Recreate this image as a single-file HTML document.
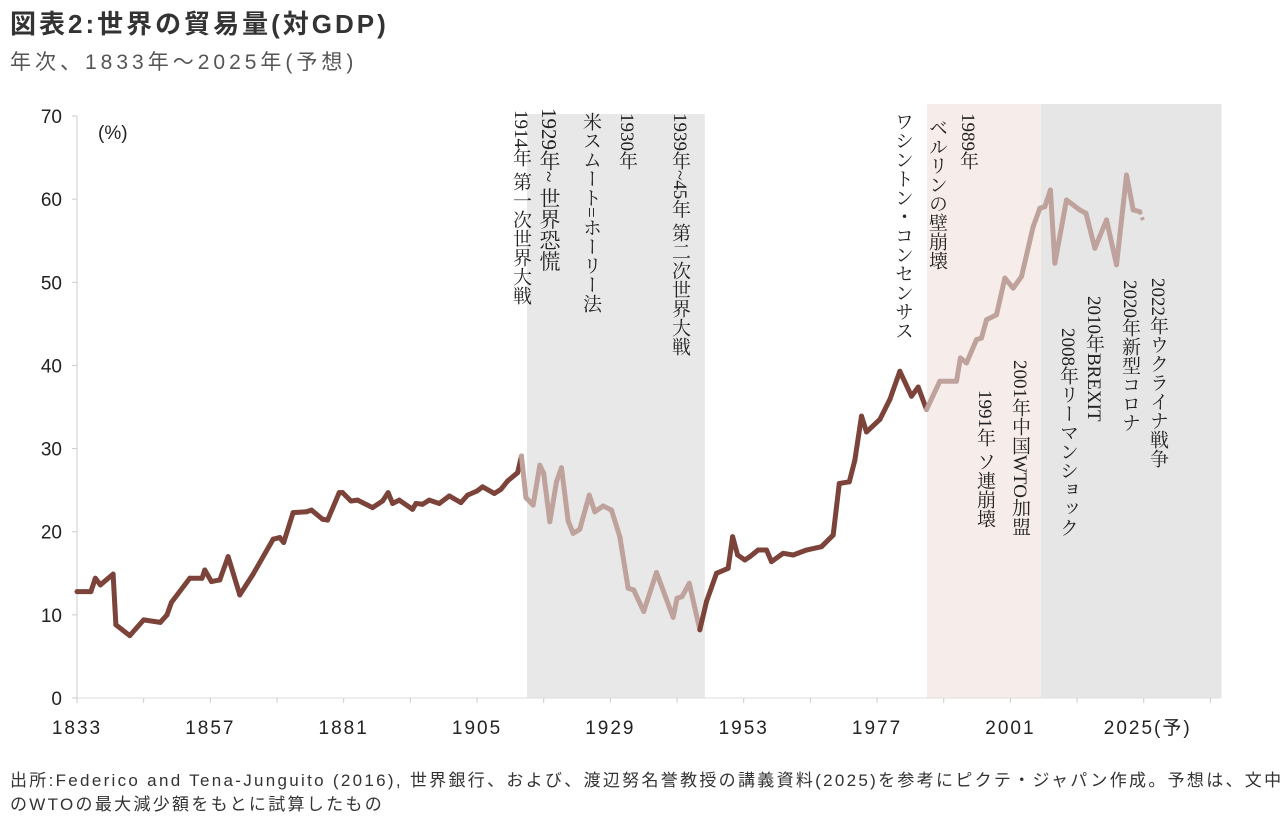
<!DOCTYPE html>
<html><head><meta charset="utf-8">
<style>
body{margin:0;width:1288px;height:822px;background:#fff;overflow:hidden;font-family:"Liberation Sans","Noto Sans CJK JP",sans-serif;position:relative}
.t{position:absolute;white-space:nowrap}
.v{position:absolute;writing-mode:vertical-rl;font-family:"Liberation Serif","Noto Serif CJK SC",serif;font-size:19px;color:#222;line-height:1;white-space:nowrap}
</style></head><body>
<div class="t" style="left:10px;top:4px;font-size:26px;font-weight:bold;color:#333;letter-spacing:3px">図表2:世界の貿易量(対GDP)</div>
<div class="t" style="left:10px;top:46px;font-size:21px;color:#555;letter-spacing:4px">年次、1833年～2025年(予想)</div>
<svg id="c" width="1288" height="822" style="position:absolute;left:0;top:0"></svg>
<div class="v" style="left:511px;top:110px">1914年 第一次世界大戦</div>
<div class="v" style="left:538px;top:108px;font-size:21px">1929年~ 世界恐慌</div>
<div class="v" style="left:581px;top:112px">米スムート=ホーリー法</div>
<div class="v" style="left:617px;top:113px">1930年</div>
<div class="v" style="left:670px;top:113px">1939年~45年 第二次世界大戦</div>
<div class="v" style="left:893px;top:112px">ワシントン・コンセンサス</div>
<div class="v" style="left:927px;top:118px">ベルリンの壁崩壊</div>
<div class="v" style="left:958px;top:113px">1989年</div>
<div class="v" style="left:975px;top:390px">1991年 ソ連崩壊</div>
<div class="v" style="left:1010px;top:360px">2001年中国WTO加盟</div>
<div class="v" style="left:1058px;top:328px">2008年リーマンショック</div>
<div class="v" style="left:1084px;top:296px">2010年BREXIT</div>
<div class="v" style="left:1120px;top:280px">2020年新型コロナ</div>
<div class="v" style="left:1148px;top:278px">2022年ウクライナ戦争</div>
<div class="t" style="left:10px;top:769px;font-size:17px;color:#333;line-height:24px;letter-spacing:2.3px">出所:Federico and Tena-Junguito (2016), 世界銀行、および、渡辺努名誉教授の講義資料(2025)を参考にピクテ・ジャパン作成。予想は、文中<br>のWTOの最大減少額をもとに試算したもの</div>
<script>
const years=[1833,1835.5,1836.3,1837.2,1839.5,1840,1842.5,1845,1848,1849.2,1850,1853.3,1855.5,1856,1857.2,1858.7,1860.2,1862.3,1864.7,1868.3,1869.5,1870.2,1871.9,1874.3,1875.2,1877.2,1878.1,1880.2,1880.8,1882.3,1883.5,1886.2,1888,1889,1889.8,1891,1893.4,1894,1895.2,1896.4,1898.2,1900,1902.1,1903.3,1905,1906,1908.1,1909.3,1910.5,1912.3,1913,
1913.8,1915.1,1916.3,1917,1918.1,1919.3,1920.2,1921.4,1922.3,1923.5,1925.2,1926.2,1927.7,1929.2,1930.7,1932.2,1933.2,1935,1937.3,1940.3,1941,1941.9,1943.2,1945.1,
1946.3,1948.1,1950.2,1951,1951.9,1953.2,1954.1,1955.6,1957.1,1958,1960.1,1961.9,1964.3,1967,1969.1,1970.2,1972,1973,1974.2,1975.1,1977.5,1979.3,1981.1,1983.2,1984.4,1985.9,
1988.3,1991.3,1992,1993.1,1994.9,1995.8,1996.7,1998.5,2000,2001.5,2003,2005.1,2006.3,2007.2,2008.2,2009,2011.1,2013.5,2014.6,2016.2,2018.3,2020.1,2021.9,2023.1,2024.3];
const values=[12.8,12.8,14.4,13.6,14.9,8.8,7.5,9.4,9.1,10,11.5,14.4,14.4,15.4,14,14.2,17,12.4,14.9,19.1,19.3,18.7,22.3,22.4,22.6,21.5,21.4,24.7,24.7,23.7,23.8,22.9,23.7,24.7,23.4,23.8,22.7,23.4,23.3,23.8,23.4,24.3,23.5,24.4,24.9,25.4,24.6,25.1,26.1,27.1,29.1,
24.1,23.2,28,27,21.2,26,27.7,21.3,19.8,20.3,24.4,22.4,23.1,22.6,19.4,13.2,13,10.4,15.1,9.7,12,12.2,13.8,8.2,
11.6,15,15.6,19.4,17.2,16.6,17,17.8,17.8,16.4,17.4,17.2,17.8,18.2,19.6,25.8,26,28.6,33.9,32,33.5,35.9,39.3,36.3,37.4,34.7,
38.1,38.1,40.9,40.3,43.1,43.3,45.5,46.1,50.5,49.3,50.7,56.7,58.9,59.1,61.1,52.3,59.9,58.7,58.3,54.1,57.5,52.1,62.9,58.7,58.5];
const forecastYears=[2024.3,2025];
const forecastValues=[58.5,57.2];
const lightRanges=[[1913,1945.1],[1985.9,2030]];
const bands=[[1914,1946,'#e8e8e8',114],[1986,2006.5,'#f6ece9',104],[2006.5,2039,'#e6e6e6',104]];
const yTicks=[0,10,20,30,40,50,60,70];
const xLabels=[1833,1857,1881,1905,1929,1953,1977,2001];
const NS='http://www.w3.org/2000/svg';
const svg=document.getElementById('c');
const X0=77,PX=5.556,Y0=698,PY=8.314;
const xs=y=>X0+(y-1833)*PX, ys=v=>Y0-v*PY;
function el(t,a){const e=document.createElementNS(NS,t);for(const k in a)e.setAttribute(k,a[k]);svg.appendChild(e);return e;}
bands.forEach(b=>{const r=el('rect',{x:xs(b[0]),y:b[3],width:xs(b[1])-xs(b[0]),height:Y0-b[3],fill:b[2]});

});
const ax=el('line',{x1:X0,y1:116,x2:X0,y2:Y0,stroke:'#ccc'});


const bx=el('line',{x1:X0,y1:Y0,x2:1220,y2:Y0,stroke:'#ddd'});


yTicks.forEach(v=>{el('line',{x1:X0-5,y1:ys(v),x2:X0,y2:ys(v),stroke:'#ccc'});
const t=el('text',{x:62,y:ys(v)+7,'text-anchor':'end','font-size':19,fill:'#222'});t.textContent=v;

});
for(let y=1833;y<=2037;y+=12)el('line',{x1:xs(y),y1:Y0,x2:xs(y),y2:Y0+5,stroke:'#ccc'});
xLabels.forEach(y=>{const t=el('text',{x:xs(y),y:Y0+36,'text-anchor':'middle','font-size':19,fill:'#222','letter-spacing':'2'});t.textContent=y;

});
const l25=el('text',{x:xs(2025)+4,y:Y0+36,'text-anchor':'middle','font-size':19,fill:'#222','letter-spacing':'2'});l25.textContent='2025(予)';


const u=el('text',{x:98,y:139,'font-size':19,fill:'#222'});u.textContent='(%)';


const isLight=y=>lightRanges.some(r=>y>=r[0]&&y<r[1]);
for(let i=0;i<years.length-1;i++){
 const s=el('line',{x1:xs(years[i]),y1:ys(values[i]),x2:xs(years[i+1]),y2:ys(values[i+1]),stroke:isLight(years[i])?'#bfa29c':'#7b4339','stroke-width':5,'stroke-linecap':'round'});
 
 
}
const f=el('line',{x1:xs(forecastYears[0]),y1:ys(forecastValues[0]),x2:xs(forecastYears[1]),y2:ys(forecastValues[1]),stroke:'#bfa29c','stroke-width':4,'stroke-dasharray':'3 3'});


</script>
</body></html>
